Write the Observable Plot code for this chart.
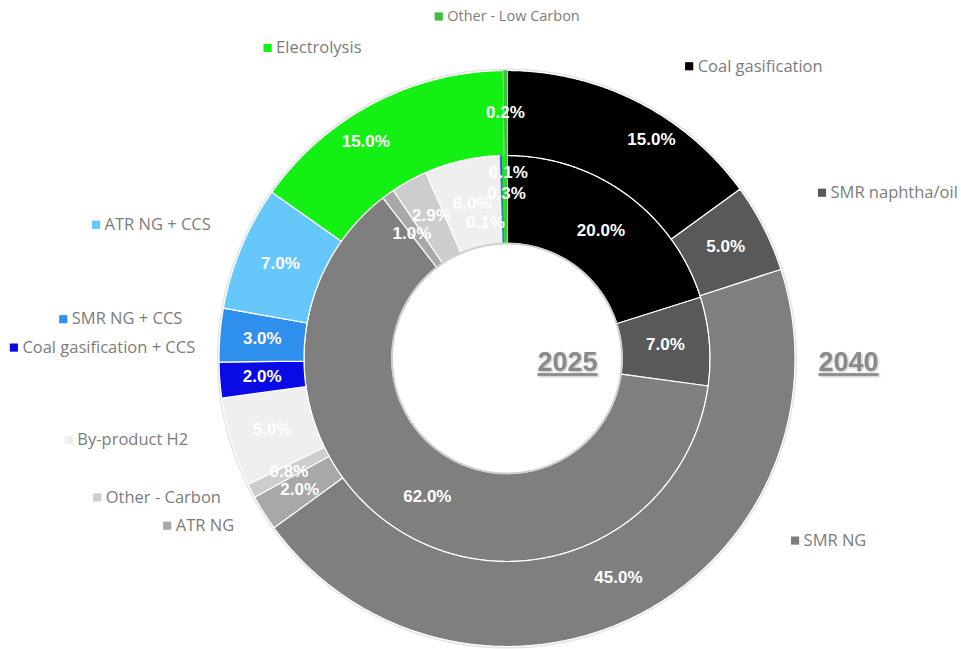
<!DOCTYPE html>
<html><head><meta charset="utf-8">
<script src="https://cdn.jsdelivr.net/npm/d3@7"></script>
<script src="https://cdn.jsdelivr.net/npm/@observablehq/plot@0.6"></script>
<style>html,body{margin:0;padding:0;background:#fff;overflow:hidden}</style>
</head><body><div id="chart"></div>
<script>
// ---- data ----
const categories = ["Coal gasification","SMR naphtha/oil","SMR NG","ATR NG","Other - Carbon","By-product H2","Coal gasification + CCS","SMR NG + CCS","ATR NG + CCS","Electrolysis","Other - Low Carbon"];
const colors = ["#000000","#595959","#7f7f7f","#a8a8a8","#cdcdcd","#efefef","#0a0ae6","#2f8fec","#66c8fa","#14f014","#3cc03c"];
const values2025 = [20.0, 7.0, 62.0, 1.0, 2.9, 6.0, 0.1, 0, 0, 0.3, 0.1];
const values2040 = [15.0, 5.0, 45.0, 2.0, 0.8, 5.0, 2.0, 3.0, 7.0, 15.0, 0.2];
const years = ["2025", "2040"];

// ---- layout ----
const W = 961, H = 649, CX = 506.5, CY = 358;
const R0 = 115, R1 = 203, R2 = 288;
// category label placement around the outer ring: [angle in degrees, radius]
const catPlace = [[31.3,342],[61.9,352],[122.7,337],[238.5,320],[244.1,318],[255.7,329],[272,312],[276.9,327],[294.3,325],[334.9,343],[0,342]];
const catSize = [16.5,16.5,16.5,16.5,16.5,16.5,16.5,16.5,16.5,16.5,14.5];
// manual nudges of value labels (px): key -> [dx, dy(up)]
const pctNudge = {"2040-0":[33,0], "2040-9":[-27,0], "2025-10":[2,27], "2025-9":[2,6], "2025-6":[-17,-23], "2025-3":[-2,-4], "2025-4":[1,4]};
const yearPos = [[60.5,-4],[341.5,-4]];

function ring(values, r0, r1, year) {
  const total = d3.sum(values);
  let acc = 0; const pts = [], labels = [];
  values.forEach((v, i) => {
    const a0 = acc / total * 2 * Math.PI; acc += v; const a1 = acc / total * 2 * Math.PI;
    if (v <= 0) return;
    const key = year + "-" + i;
    const n = Math.max(2, Math.ceil((a1 - a0) / (Math.PI / 360)));
    for (let k = 0; k <= n; k++) { const a = a0 + (a1 - a0) * k / n; pts.push({key, v, color: colors[i], x: r1 * Math.sin(a), y: r1 * Math.cos(a)}); }
    for (let k = n; k >= 0; k--) { const a = a0 + (a1 - a0) * k / n; pts.push({key, v, color: colors[i], x: r0 * Math.sin(a), y: r0 * Math.cos(a)}); }
    const am = (a0 + a1) / 2, rm = (r0 + r1) / 2;
    const nd = pctNudge[key] || [0, 0];
    labels.push({key, text: d3.format(".1f")(v) + "%", x: rm * Math.sin(am) + nd[0], y: rm * Math.cos(am) + nd[1]});
  });
  return {pts, labels};
}
const inner = ring(values2025, R0, R1, years[0]);
const outer = ring(values2040, R1, R2, years[1]);
const slices = inner.pts.concat(outer.pts);
const pctLabels = inner.labels.concat(outer.labels);

// category labels
const ctx = document.createElement("canvas").getContext("2d");
const catLabels = categories.map((c, i) => {
  const [deg, r] = catPlace[i];
  const a = deg * Math.PI / 180;
  const px = r * Math.sin(a), py = r * Math.cos(a);
  ctx.font = catSize[i] + "px 'Open Sans'";
  const w = ctx.measureText(c).width;
  let start;
  if (deg > 5 && deg < 180) start = px + 13;
  else if (deg >= 180 && deg < 355) start = px - w;
  else start = px - (w + 13) / 2 + 13;
  return {text: c, color: colors[i], tx: start, sx: start - 8.5, y: py, size: catSize[i]};
});
const yearLabels = years.map((y, i) => ({text: y, x: yearPos[i][0], y: yearPos[i][1]}));

const chart = Plot.plot({
  width: W, height: H,
  margin: 0,
  x: {domain: [-CX, W - CX], axis: null},
  y: {domain: [-(H - CY), CY], axis: null},
  color: {type: "identity"},
  style: {background: "#fff"},
  marks: [
    Plot.dot([0], {x: () => 0, y: () => 0, r: R2 + 1, stroke: "#e4e4e4", strokeWidth: 2, fill: "none"}),
    Plot.line(slices, {x: "x", y: "y", z: "key", fill: "color", stroke: "#ffffff", strokeWidth: 1.2, curve: "linear-closed"}),
    Plot.line(slices.filter(d => d.v < 0.5), {x: "x", y: "y", z: "key", fill: "color", stroke: "color", strokeWidth: 0.6, curve: "linear-closed"}),
    Plot.dot([0], {x: () => 0, y: () => 0, r: R0, stroke: "#cfcfcf", strokeWidth: 2, fill: "#fff"}),
    Plot.text(pctLabels, {x: "x", y: "y", text: "text", fill: "#fff", fontSize: 17, fontWeight: "bold", fontFamily: "'Liberation Sans', Arial, sans-serif"}),
    Plot.dot(catLabels, {x: "sx", y: "y", symbol: "square", r: 4.6, fill: "color", stroke: "none"}),
    Plot.text(catLabels.filter(d => d.size > 15), {x: "tx", y: "y", text: "text", textAnchor: "start", fill: "#7c7c7c", fontSize: 16.5, fontFamily: "'Open Sans', sans-serif"}),
    Plot.text(catLabels.filter(d => d.size <= 15), {x: "tx", y: "y", text: "text", textAnchor: "start", fill: "#7c7c7c", fontSize: 14.5, fontFamily: "'Open Sans', sans-serif"}),
    Plot.text(yearLabels, {x: "x", y: "y", text: "text", fill: "#8a8a8a", fontSize: 27, fontWeight: "bold", fontFamily: "'Liberation Sans', Arial, sans-serif"})
  ]
});
d3.select(chart).selectAll("text").filter(function() { return years.includes(this.textContent); })
  .style("text-decoration", "underline").style("filter", "drop-shadow(1px 1px 1px rgba(0,0,0,0.25))");
document.getElementById("chart").appendChild(chart);
</script>
</body></html>
